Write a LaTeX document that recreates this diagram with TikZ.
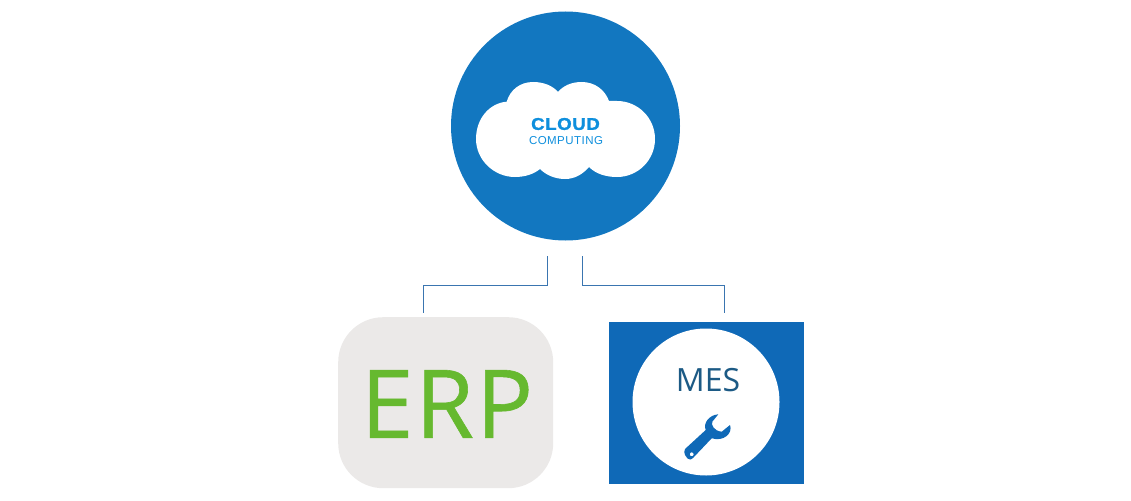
\documentclass[tikz,border=0pt]{standalone}
\usepackage{fontspec}
\setmainfont{Open Sans}
\newfontfamily\cloudfont{Liberation Sans}
\definecolor{cloudblue}{HTML}{1277C0}
\definecolor{textblue}{HTML}{0E8FDD}
\definecolor{linkblue}{HTML}{3A75B0}
\definecolor{mesblue}{HTML}{0F69B7}
\definecolor{mestext}{HTML}{1C5A85}
\definecolor{erpgrey}{HTML}{EBE9E8}
\definecolor{erpgreen}{HTML}{66B92F}
\tikzset{
    disc/.style={circle,inner sep=0pt,outer sep=0pt,minimum size=#1},
    link/.style={draw=linkblue,line width=0.9pt}
}
\begin{document}
\begin{tikzpicture}[x=1pt,y=-1pt]
        \useasboundingbox (0,0) rectangle (1131,500);
        %% Cloud
        \node[disc=229pt,fill=cloudblue] (C) at (565.5,126) {};
        \fill[white] (506.7,101.7) .. controls (510,90) and (520,82) .. (533,82)
            .. controls (544,82) and (553,86) .. (558,92)
            .. controls (563,86) and (571,82) .. (581.7,82)
            .. controls (595,82) and (605,90) .. (609,101)
            .. controls (612,101) and (614,101) .. (617,101)
            .. controls (638,101) and (655,118) .. (655,139)
            .. controls (655,160) and (638,177) .. (617,177)
            .. controls (606,177) and (596,174) .. (589,167)
            .. controls (583,174) and (575,179) .. (565,179)
            .. controls (555,179) and (546,175) .. (540,169)
            .. controls (534,174) and (525,177) .. (515,177)
            .. controls (494,177) and (476,160) .. (476,139)
            .. controls (476,118) and (490,103) .. (506.7,101.7) -- cycle;
        \node[text=textblue,font=\cloudfont\bfseries\fontsize{17}{17}\selectfont\addfontfeature{LetterSpace=3,FakeBold=1.2},xscale=1.1] (CT) at (565.5,124) {CLOUD};
        \node[text=textblue,font=\cloudfont\fontsize{11.5}{11.5}\selectfont\addfontfeature{LetterSpace=4}] (CS) at (566,141) {COMPUTING};
        %% ERP
        \node[fill=erpgrey,rectangle,rounded corners=45pt,minimum width=215pt,minimum height=171pt,anchor=north west] (ERP) at (338,317) {};
        \node[text=erpgreen,font=\fontsize{95}{95}\selectfont\addfontfeature{LetterSpace=2,FakeBold=0.6}] (ET) at (447,404) {ERP};
        %% MES
        \node[fill=mesblue,rectangle,minimum width=195pt,minimum height=162pt,anchor=north west] (MES) at (609,322) {};
        \node[disc=147pt,fill=white] (MC) at (706,402) {};
        \node[text=mestext,font=\fontsize{32}{32}\selectfont] (MT) at (708,380) {MES};
        %% Wrench
        \fill[mesblue,even odd rule] (685,449) -- (705.7,430) .. controls (703,423) and (709,415) .. (718.3,414.3)
            -- (712.3,421.7) .. controls (711,425) and (714,431) .. (721.7,431.7)
            -- (730,425) .. controls (733,433) and (724,442) .. (711.7,438.3)
            -- (693.3,457.7) .. controls (691,460) and (689,460) .. (687.5,458.5)
            -- (685,455) .. controls (684,453) and (684,451) .. (685,449) -- cycle
            (691.7,454.3) circle (2);
        %% Links
        \coordinate (LA) at (547,256);
        \coordinate (LB) at (423.5,313);
        \coordinate (RA) at (582.5,256);
        \coordinate (RB) at (724,313);
        \draw[link] (LA) -- (547,285) -- (423.5,285) -- (LB);
        \draw[link] (RA) -- (582.5,285) -- (724,285) -- (RB);
    \end{tikzpicture}
\end{document}
